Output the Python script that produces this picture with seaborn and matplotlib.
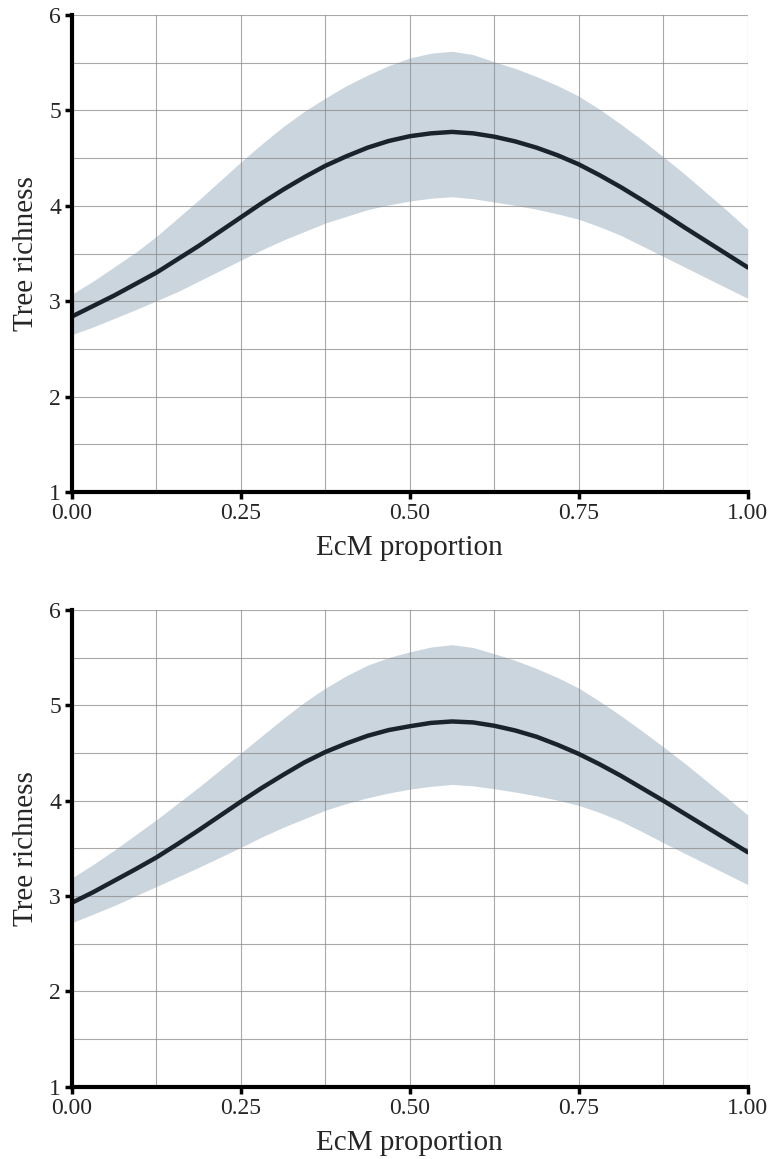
import numpy as np
import pandas as pd
import matplotlib
matplotlib.use("Agg")
import matplotlib.pyplot as plt
import seaborn as sns
from matplotlib.ticker import MultipleLocator

# EcM proportion at which the fitted curves are evaluated (steps of 1/32)
ecm = [0.0, 0.03125, 0.0625, 0.09375, 0.125, 0.15625, 0.1875, 0.21875,
       0.25, 0.28125, 0.3125, 0.34375, 0.375, 0.40625, 0.4375, 0.46875,
       0.5, 0.53125, 0.5625, 0.59375, 0.625, 0.65625, 0.6875, 0.71875,
       0.75, 0.78125, 0.8125, 0.84375, 0.875, 0.90625, 0.9375, 0.96875, 1.0]

# Upper panel: fitted tree richness and its confidence band
fit_a = [2.84, 2.95, 3.06, 3.18, 3.30, 3.44, 3.58, 3.73,
         3.88, 4.03, 4.17, 4.30, 4.42, 4.52, 4.61, 4.68,
         4.73, 4.76, 4.775, 4.76, 4.725, 4.675, 4.61, 4.53,
         4.435, 4.32, 4.195, 4.06, 3.92, 3.775, 3.635, 3.495, 3.355]
upper_a = [3.075, 3.21, 3.36, 3.51, 3.68, 3.87, 4.06, 4.26,
           4.46, 4.65, 4.83, 4.99, 5.13, 5.26, 5.37, 5.47,
           5.55, 5.60, 5.62, 5.585, 5.51, 5.44, 5.355, 5.26,
           5.15, 5.01, 4.855, 4.69, 4.515, 4.335, 4.145, 3.955, 3.755]
lower_a = [2.65, 2.73, 2.82, 2.91, 3.005, 3.10, 3.21, 3.32,
           3.43, 3.54, 3.64, 3.73, 3.82, 3.89, 3.96, 4.01,
           4.05, 4.08, 4.095, 4.075, 4.04, 4.005, 3.965, 3.915,
           3.86, 3.78, 3.69, 3.58, 3.47, 3.36, 3.25, 3.14, 3.03]

# Lower panel
fit_b = [2.93, 3.04, 3.16, 3.28, 3.405, 3.545, 3.69, 3.84,
         3.99, 4.135, 4.27, 4.40, 4.51, 4.60, 4.68, 4.74,
         4.78, 4.815, 4.83, 4.82, 4.785, 4.735, 4.67, 4.585,
         4.49, 4.38, 4.26, 4.13, 4.00, 3.865, 3.73, 3.595, 3.46]
upper_b = [3.19, 3.33, 3.48, 3.64, 3.80, 3.97, 4.14, 4.32,
           4.50, 4.68, 4.86, 5.03, 5.18, 5.31, 5.42, 5.50,
           5.56, 5.61, 5.635, 5.605, 5.54, 5.47, 5.385, 5.29,
           5.18, 5.04, 4.89, 4.73, 4.565, 4.395, 4.215, 4.035, 3.85]
lower_b = [2.72, 2.81, 2.90, 3.00, 3.10, 3.20, 3.30, 3.405,
           3.51, 3.62, 3.72, 3.81, 3.90, 3.97, 4.03, 4.08,
           4.12, 4.15, 4.17, 4.155, 4.125, 4.09, 4.05, 4.005,
           3.95, 3.875, 3.785, 3.675, 3.56, 3.45, 3.34, 3.23, 3.12]

x_ticks = [0.0, 0.25, 0.5, 0.75, 1.0]
x_tick_labels = ["0.00", "0.25", "0.50", "0.75", "1.00"]
y_ticks = [1, 2, 3, 4, 5, 6]

sns.set_theme(style="white")
plt.rcParams["font.family"] = ["Liberation Serif", "DejaVu Serif"]

band_color = "#cad5de"
line_color = "#1a232b"

fig = plt.figure(figsize=(7.7, 11.59), dpi=100)
ax_top = fig.add_axes([0.0935, 0.5755, 0.8775, 0.4115])
ax_bot = fig.add_axes([0.0935, 0.0623, 0.8775, 0.4115])

panels = [(ax_top, fit_a, upper_a, lower_a), (ax_bot, fit_b, upper_b, lower_b)]

for ax, fit, up, lo in panels:
    df = pd.DataFrame({"EcM proportion": ecm, "Tree richness": fit,
                       "upper": up, "lower": lo})
    ax.fill_between(df["EcM proportion"], df["lower"], df["upper"],
                    color=band_color, linewidth=0, zorder=1)
    sns.lineplot(data=df, x="EcM proportion", y="Tree richness", ax=ax,
                 color=line_color, linewidth=3.2, zorder=4)

    ax.set_xlim(0, 1)
    ax.set_ylim(1, 6)
    ax.set_xticks(x_ticks)
    ax.set_xticklabels(x_tick_labels)
    ax.set_yticks(y_ticks)
    ax.xaxis.set_minor_locator(MultipleLocator(0.125))
    ax.yaxis.set_minor_locator(MultipleLocator(0.5))

    ax.grid(True, which="both", color="#8c8c8c", linewidth=0.8, alpha=0.75)
    ax.set_axisbelow(False)
    for ln in ax.get_xgridlines() + ax.get_ygridlines():
        ln.set_zorder(2)

    for side in ("top", "right"):
        ax.spines[side].set_visible(False)
    for side in ("left", "bottom"):
        ax.spines[side].set_linewidth(3.0)
        ax.spines[side].set_color("black")
        ax.spines[side].set_zorder(5)

    ax.tick_params(which="major", direction="out", length=5, width=2.5,
                   color="black", labelsize=17, pad=3, bottom=True, left=True)
    ax.tick_params(which="minor", length=0)

    ax.set_xlabel("EcM proportion", fontsize=21, labelpad=8)
    ax.set_ylabel("Tree richness", fontsize=21, labelpad=7)

fig.savefig("out.png", dpi=100)
